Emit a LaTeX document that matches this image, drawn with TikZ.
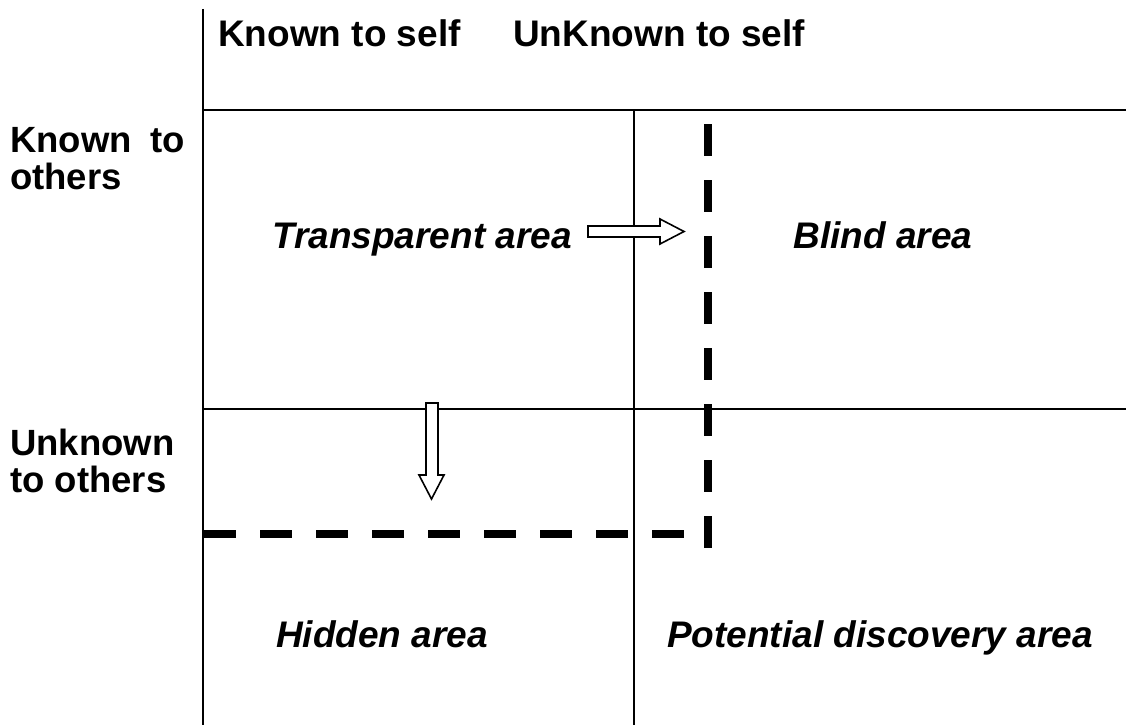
\documentclass[tikz,border=0pt]{standalone}
\usepackage{fontspec}
\setmainfont{Liberation Sans}
\begin{document}
\begin{tikzpicture}[x=1pt,y=-1pt,
  thin line/.style={line width=2pt},
  thick dash/.style={line width=8pt, dash pattern=on 32pt off 24pt},
  block arrow/.style={draw, line width=1.6pt, fill=white, line join=miter},
  head/.style={font=\fontsize{37}{37}\selectfont\bfseries, anchor=base west, inner sep=0pt},
  side/.style={font=\fontsize{36.5}{37}\selectfont\bfseries, anchor=base west, inner sep=0pt, align=left},
  area/.style={font=\fontsize{37}{37}\selectfont\bfseries\itshape, anchor=base, inner sep=0pt}]
\useasboundingbox (0,0) rectangle (1126,725);
% frame lines
\coordinate (vtop) at (203,9);
\coordinate (vbot) at (203,725);
\coordinate (h1l) at (203,110);
\coordinate (h1r) at (1126,110);
\coordinate (m1) at (634,110);
\coordinate (m2) at (634,725);
\coordinate (h2l) at (203,409);
\coordinate (h2r) at (1126,409);
\draw[thin line] (vtop) -- (vbot);
\draw[thin line] (h1l) -- (h1r);
\draw[thin line] (m1) -- (m2);
\draw[thin line] (h2l) -- (h2r);
% dashed boundaries
\coordinate (dv1) at (707.5,124);
\coordinate (dv2) at (707.5,549);
\coordinate (dh1) at (204,534);
\coordinate (dh2) at (684,534);
\draw[thick dash] (dv1) -- (dv2);
\draw[thick dash] (dh1) -- (dh2);
% labels
\node[head] (k) at (218,47) {Known to self};
\node[head] (u) at (513,47) {UnKnown to self};
\node[side] (ko) at (10,189) {Known\hspace{19pt}to\\others};
\node[side] (uo) at (10,492) {Unknown\\to others};
\node[area] (t) at (422,248) {Transparent area};
\node[area] (b) at (883,248) {Blind area};
\node[area] (h) at (382,647) {Hidden area};
\node[area] (p) at (880,647) {Potential discovery area};
% block arrows
\draw[block arrow] (588,226) -- (660,226) -- (660,219) -- (684,231.5) -- (660,244) -- (660,237) -- (588,237) -- cycle;
\draw[block arrow] (426,403) -- (438,403) -- (438,475) -- (444,475) -- (431.5,499) -- (419,475) -- (426,475) -- cycle;
\end{tikzpicture}
\end{document}
